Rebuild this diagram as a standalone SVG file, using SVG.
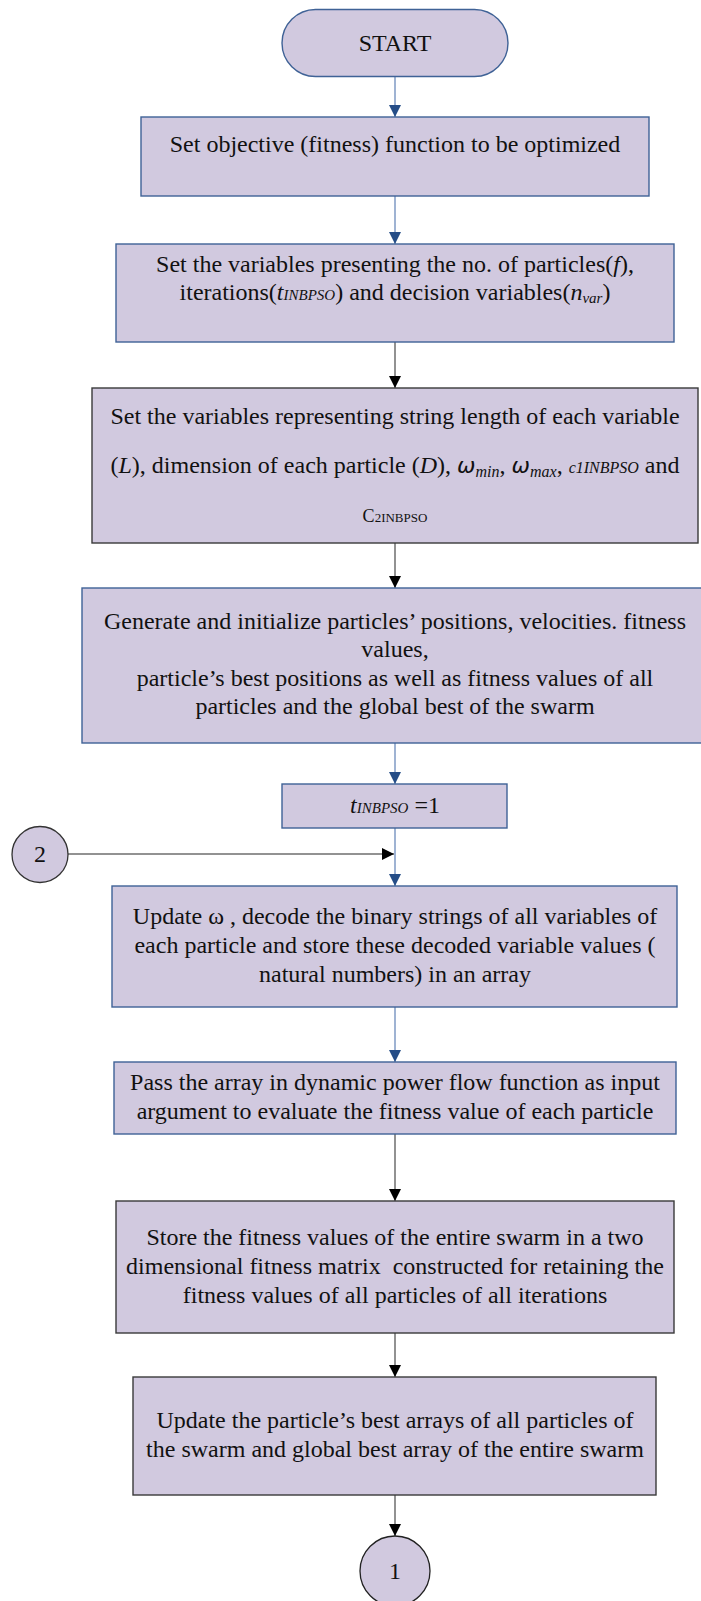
<svg xmlns="http://www.w3.org/2000/svg" width="701" height="1601" viewBox="0 0 701 1601">
<defs>
<style>
.box{fill:#D1C9DF;stroke-width:1.4}
.bl{stroke:#3F6296}
.dk{stroke:#3A3A3A}
.t{font-family:"Liberation Serif","Times New Roman",serif;font-size:24px;fill:#111;text-anchor:middle}
.i{font-style:italic}
.om{font-family:"DejaVu Sans",sans-serif;font-style:italic;font-size:22px}
.cb{stroke:#7F9AC4;stroke-width:1.5;fill:none}
.cg{stroke:#6E6E6E;stroke-width:1.5;fill:none}
</style>
<marker id="ab" viewBox="0 0 12 12" refX="12" refY="6" markerWidth="12" markerHeight="12" markerUnits="userSpaceOnUse" orient="auto"><path d="M0,0 L12,6 L0,12 z" fill="#254D87"/></marker>
<marker id="ak" viewBox="0 0 12 12" refX="12" refY="6" markerWidth="12" markerHeight="12" markerUnits="userSpaceOnUse" orient="auto"><path d="M0,0 L12,6 L0,12 z" fill="#000"/></marker>
</defs>
<rect width="701" height="1601" fill="#fff"/>

<g id="connectors">
<line class="cb" x1="395" y1="76" x2="395" y2="117" marker-end="url(#ab)"/>
<line class="cb" x1="395" y1="196" x2="395" y2="244" marker-end="url(#ab)"/>
<line class="cg" x1="395" y1="342" x2="395" y2="388" marker-end="url(#ak)"/>
<line class="cg" x1="395" y1="543" x2="395" y2="588" marker-end="url(#ak)"/>
<line class="cb" x1="395" y1="743" x2="395" y2="784" marker-end="url(#ab)"/>
<line class="cb" x1="395" y1="828" x2="395" y2="886" marker-end="url(#ab)"/>
<line class="cg" x1="68" y1="854" x2="394" y2="854" marker-end="url(#ak)"/>
<line class="cb" x1="395" y1="1007" x2="395" y2="1062" marker-end="url(#ab)"/>
<line class="cg" x1="395" y1="1134" x2="395" y2="1201" marker-end="url(#ak)"/>
<line class="cg" x1="395" y1="1333" x2="395" y2="1377" marker-end="url(#ak)"/>
<line class="cg" x1="395" y1="1495" x2="395" y2="1536" marker-end="url(#ak)"/>
</g>

<g id="start">
<rect class="box bl" x="282" y="9.5" width="226" height="67" rx="33.5"/>
<text class="t" x="395" y="51">START</text>
</g>

<g id="box1">
<rect class="box bl" x="141" y="117" width="508" height="79"/>
<text class="t" x="395" y="152">Set objective (fitness) function to be optimized</text>
</g>

<g id="box2">
<rect class="box bl" x="116" y="244" width="558" height="98"/>
<text class="t" x="395" y="272">Set the variables presenting the no. of particles(<tspan class="i">f</tspan>),</text>
<text class="t" x="395" y="300">iterations(<tspan class="i">t</tspan><tspan class="i" font-size="15">INBPSO</tspan>) and decision variables(<tspan class="i">n</tspan><tspan class="i" font-size="15" dy="3">var</tspan><tspan dy="-3">)</tspan></text>
</g>

<g id="box3">
<rect class="box dk" x="92" y="388" width="606" height="155"/>
<text class="t" x="395" y="424">Set the variables representing string length of each variable</text>
<text class="t" x="395" y="473">(<tspan class="i">L</tspan>), dimension of each particle (<tspan class="i">D</tspan>), <tspan class="om">ω</tspan><tspan class="i" font-size="16" dy="4">min</tspan><tspan dy="-4">, </tspan><tspan class="om">ω</tspan><tspan class="i" font-size="16" dy="4">max</tspan><tspan dy="-4">, </tspan><tspan class="i" font-size="16">c1INBPSO</tspan> and</text>
<text class="t" x="395" y="522"><tspan font-size="18">C</tspan><tspan font-size="13">2INBPSO</tspan></text>
</g>

<g id="box4">
<rect class="box bl" x="82" y="588" width="626" height="155"/>
<text class="t" x="395" y="629">Generate and initialize particles’ positions, velocities. fitness</text>
<text class="t" x="395" y="657">values,</text>
<text class="t" x="395" y="686">particle’s best positions as well as fitness values of all</text>
<text class="t" x="395" y="714">particles and the global best of the swarm</text>
</g>

<g id="box5">
<rect class="box bl" x="282" y="784" width="225" height="44"/>
<text class="t" x="395" y="813"><tspan class="i">t</tspan><tspan class="i" font-size="15">INBPSO</tspan> =1</text>
</g>

<g id="connector2">
<circle cx="40" cy="854.5" r="28" fill="#D1C9DF" stroke="#333" stroke-width="1.3"/>
<text class="t" x="40" y="862">2</text>
</g>

<g id="box6">
<rect class="box bl" x="112" y="886" width="565" height="121"/>
<text class="t" x="395" y="924">Update ω , decode the binary strings of all variables of</text>
<text class="t" x="395" y="953">each particle and store these decoded variable values (</text>
<text class="t" x="395" y="982">natural numbers) in an array</text>
</g>

<g id="box7">
<rect class="box bl" x="114" y="1062" width="562" height="72"/>
<text class="t" x="395" y="1090">Pass the array in dynamic power flow function as input</text>
<text class="t" x="395" y="1119">argument to evaluate the fitness value of each particle</text>
</g>

<g id="box8">
<rect class="box dk" x="116" y="1201" width="558" height="132"/>
<text class="t" x="395" y="1245">Store the fitness values of the entire swarm in a two</text>
<text class="t" x="395" y="1274">dimensional fitness matrix&#160; constructed for retaining the</text>
<text class="t" x="395" y="1303">fitness values of all particles of all iterations</text>
</g>

<g id="box9">
<rect class="box dk" x="133" y="1377" width="523" height="118"/>
<text class="t" x="395" y="1428">Update the particle’s best arrays of all particles of</text>
<text class="t" x="395" y="1457">the swarm and global best array of the entire swarm</text>
</g>

<g id="connector1">
<circle cx="395" cy="1571" r="35" fill="#D1C9DF" stroke="#222" stroke-width="1.3"/>
<text class="t" x="395" y="1579">1</text>
</g>
</svg>
